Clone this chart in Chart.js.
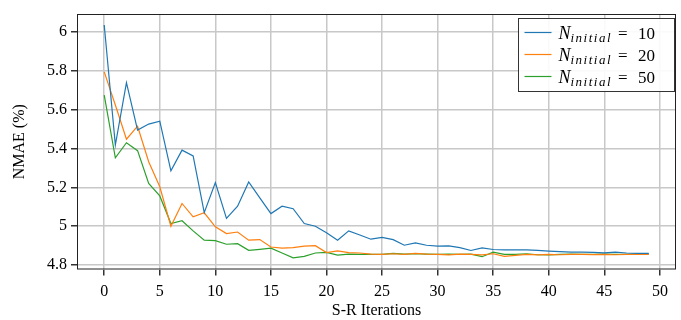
<!DOCTYPE html>
<html>
<head>
<meta charset="UTF-8">
<title>NMAE vs S-R Iterations</title>
<script src="https://cdn.jsdelivr.net/npm/chart.js"></script>
<style>
  html, body { margin: 0; padding: 0; background: #fff; }
  #wrap { width: 681px; height: 320px; }
</style>
</head>
<body>
<div id="wrap"><canvas id="chart"></canvas></div>
<script>
// S-R iterations 0..49
const iterations = Array.from({ length: 50 }, (_, i) => i);

const nmae10 = [6.036, 5.418, 5.739, 5.495, 5.526, 5.541, 5.285, 5.392, 5.362, 5.070,
                5.225, 5.040, 5.103, 5.228, 5.146, 5.065, 5.103, 5.090, 5.014, 5.000,
                4.966, 4.928, 4.976, 4.955, 4.933, 4.942, 4.931, 4.902, 4.914, 4.902,
                4.897, 4.899, 4.890, 4.875, 4.888, 4.880, 4.878, 4.878, 4.878, 4.876,
                4.872, 4.869, 4.866, 4.866, 4.865, 4.863, 4.866, 4.862, 4.860, 4.860];

const nmae20 = [5.795, 5.624, 5.448, 5.515, 5.332, 5.203, 5.000, 5.117, 5.048, 5.069,
                4.997, 4.962, 4.970, 4.928, 4.931, 4.893, 4.887, 4.890, 4.897, 4.900,
                4.864, 4.873, 4.864, 4.862, 4.856, 4.855, 4.858, 4.855, 4.860, 4.856,
                4.855, 4.852, 4.856, 4.855, 4.852, 4.858, 4.845, 4.850, 4.855, 4.852,
                4.855, 4.853, 4.855, 4.855, 4.854, 4.855, 4.853, 4.855, 4.855, 4.855];

const nmae50 = [5.675, 5.352, 5.430, 5.389, 5.220, 5.156, 5.014, 5.028, 4.976, 4.928,
                4.926, 4.907, 4.910, 4.876, 4.881, 4.887, 4.862, 4.837, 4.845, 4.862,
                4.865, 4.851, 4.856, 4.855, 4.855, 4.855, 4.860, 4.856, 4.858, 4.856,
                4.855, 4.856, 4.855, 4.856, 4.843, 4.866, 4.855, 4.855, 4.858, 4.853,
                4.852, 4.855, 4.856, 4.855, 4.855, 4.856, 4.855, 4.855, 4.856, 4.856];

const xTicks = [0, 5, 10, 15, 20, 25, 30, 35, 40, 45, 50];
const yTicks = [4.8, 5.0, 5.2, 5.4, 5.6, 5.8, 6.0];
const seriesLabels = ['10', '20', '50'];
const colors = ['#1f77b4', '#ff7f0e', '#2ca02c'];

const lserif = "'Liberation Serif', serif";

function toPoints(arr) {
    return arr.map((v, i) => ({ x: iterations[i], y: v }));
}

// frame + legend drawn like matplotlib
const framePlugin = {
    id: 'frame',
    afterDraw(chart) {
        const ctx = chart.ctx;
        const a = chart.chartArea;
        ctx.save();
        ctx.strokeStyle = '#222';
        ctx.lineWidth = 1;
        ctx.strokeRect(a.left + 0.5, a.top + 0.5, a.right - a.left - 1, a.bottom - a.top - 1);

        // legend box
        const bx = 518.5, by = 18.5, bw = 156, bh = 73;
        ctx.fillStyle = 'rgba(255,255,255,0.9)';
        ctx.fillRect(bx, by, bw, bh);
        ctx.strokeStyle = '#333';
        ctx.strokeRect(bx, by, bw, bh);
        seriesLabels.forEach((lab, k) => {
            const cy = by + 14 + k * 22;
            ctx.strokeStyle = colors[k];
            ctx.lineWidth = 1.2;
            ctx.beginPath();
            ctx.moveTo(bx + 6, cy);
            ctx.lineTo(bx + 33, cy);
            ctx.stroke();
            ctx.fillStyle = '#000';
            ctx.textBaseline = 'alphabetic';
            let tx = bx + 40;
            ctx.letterSpacing = '0px';
            ctx.font = 'italic 18px ' + lserif;
            ctx.fillText('N', tx, cy + 6);
            tx += ctx.measureText('N').width;
            ctx.font = 'italic 13px ' + lserif;
            ctx.letterSpacing = '1.5px';
            ctx.fillText('initial', tx, cy + 9);
            tx += ctx.measureText('initial').width + 6;
            ctx.letterSpacing = '0px';
            ctx.font = '17px ' + lserif;
            ctx.fillText('=', tx, cy + 6);
            ctx.fillText(lab, tx + 20, cy + 6);
        });
        ctx.restore();
    }
};

new Chart(document.getElementById('chart'), {
    type: 'line',
    data: {
        datasets: [
            { label: 'N_initial = 10', data: toPoints(nmae10), borderColor: colors[0] },
            { label: 'N_initial = 20', data: toPoints(nmae20), borderColor: colors[1] },
            { label: 'N_initial = 50', data: toPoints(nmae50), borderColor: colors[2] }
        ].map(d => Object.assign(d, { borderWidth: 1.2, pointRadius: 0, tension: 0, fill: false }))
    },
    options: {
        responsive: true,
        maintainAspectRatio: false,
        animation: false,
        layout: { padding: { left: 0, right: 5, top: 14, bottom: 0 } },
        plugins: {
            legend: { display: false },
            tooltip: { enabled: false }
        },
        scales: {
            x: {
                type: 'linear',
                min: -2.45,
                max: 51.45,
                afterBuildTicks(axis) { axis.ticks = xTicks.map(v => ({ value: v })); },
                afterFit(axis) { axis.height = 50.5; },
                grid: { color: '#c8c8c8', lineWidth: 1.5, tickColor: '#333', tickLength: 6 },
                border: { display: false },
                ticks: { color: '#000', font: { family: lserif, size: 16 }, padding: 7, maxRotation: 0 },
                title: { display: true, text: 'S-R Iterations', color: '#000', font: { family: lserif, size: 16 }, padding: { top: 5, bottom: 0 } }
            },
            y: {
                min: 4.777,
                max: 6.093,
                afterBuildTicks(axis) { axis.ticks = yTicks.map(v => ({ value: v })); },
                afterFit(axis) { axis.width = 77; },
                grid: { color: '#c8c8c8', lineWidth: 1.5, tickColor: '#333', tickLength: 6 },
                border: { display: false },
                ticks: {
                    color: '#000', font: { family: lserif, size: 16 }, padding: 4,
                    callback: v => String(Math.round(v * 10) / 10)
                },
                title: { display: true, text: 'NMAE (%)', color: '#000', font: { family: lserif, size: 16 }, padding: { top: 10, bottom: 0 } }
            }
        }
    },
    plugins: [framePlugin]
});
</script>
</body>
</html>
